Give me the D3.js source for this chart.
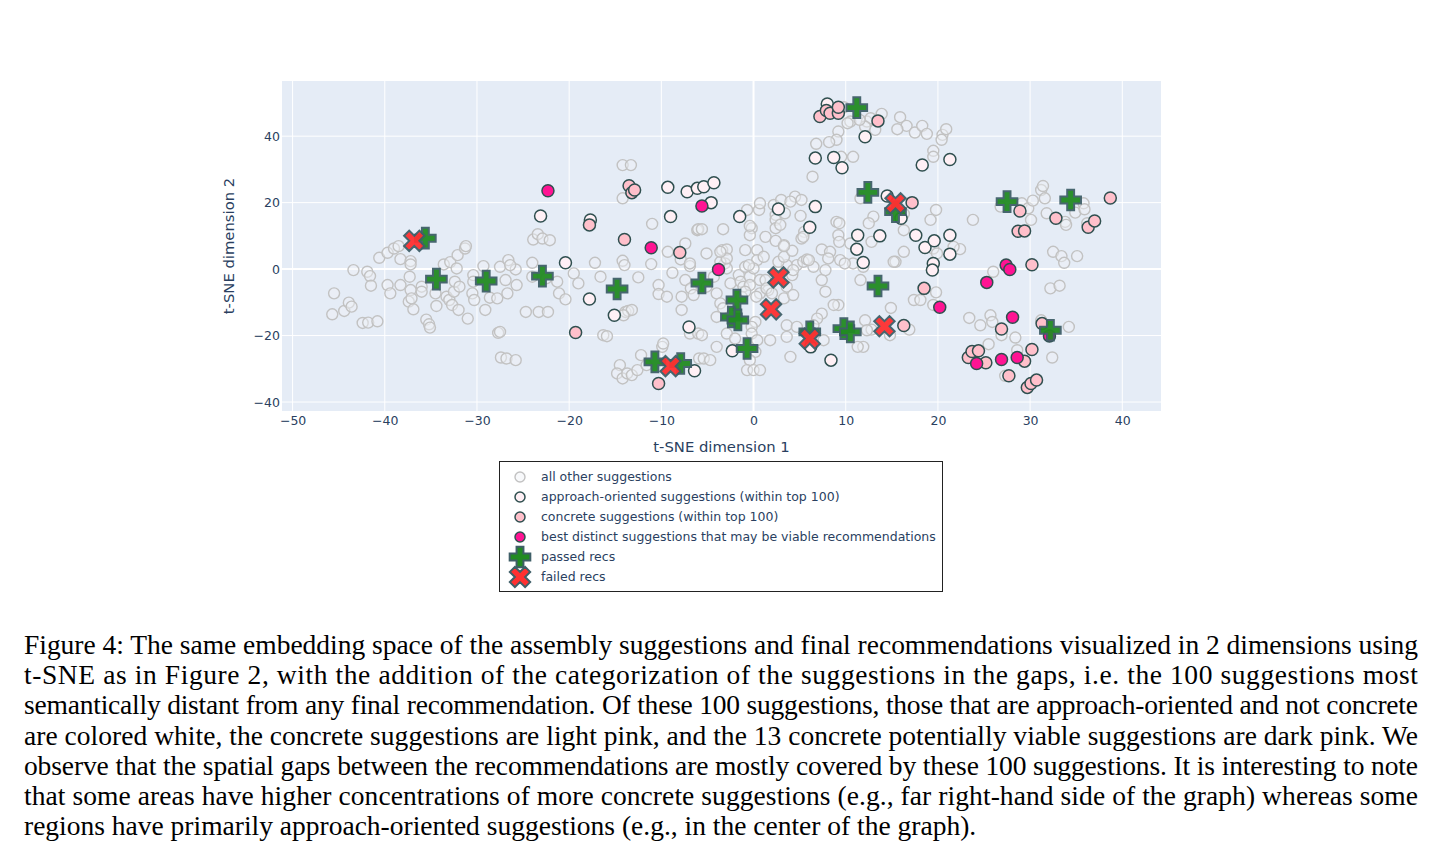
<!DOCTYPE html>
<html>
<head>
<meta charset="utf-8">
<script src="https://cdn.jsdelivr.net/npm/d3@7"></script>
<style>
  body { margin: 0; background: #fff; }
</style>
</head>
<body>
<svg id="chart"></svg>
<script>
// points, [dim1, dim2]
var otherPts = [
  [-40.6,3.4],[-39.7,4.9],[-39.0,6.2],[-38.5,6.9],[-38.3,3.0],[-37.2,2.4],[-37.2,1.4],[-33.6,1.4],[-32.9,2.1],
  [-32.1,4.2],[-31.3,6.2],[-31.2,6.9],[-29.3,0.9],[-27.5,0.7],[-26.6,2.7],[-25.8,-0.1],[-24.0,1.9],[-23.9,8.9],
  [-23.4,10.5],[-22.9,9.2],[-22.1,8.7],[-17.2,1.9],[-14.2,21.3],[-14.2,31.3],[-13.3,31.3],[-14.2,2.5],[-14.0,1.2],
  [-11.0,13.6],[-11.1,1.5],[-9.3,5.2],[-7.9,2.9],[-7.4,7.7],[-6.9,0.9],[-6.1,11.7],[-43.4,-0.3],[-41.9,-0.8],
  [-41.6,-2.1],[-41.5,-5.0],[-45.5,-7.3],[-45.7,-13.6],[-44.4,-12.6],[-43.9,-10.1],[-43.6,-11.3],[-42.4,-16.2],
  [-41.8,-16.1],[-40.8,-15.7],[-39.7,-4.8],[-39.4,-7.3],[-38.3,-4.8],[-37.3,-2.3],[-37.2,-6.3],[-37.4,-9.8],
  [-36.9,-12.1],[-37.1,-8.8],[-36.0,-5.3],[-36.0,-6.8],[-35.5,-15.2],[-35.2,-16.6],[-35.1,-17.6],[-34.5,-7.3],
  [-34.4,-11.1],[-33.3,-8.3],[-33.0,-9.3],[-32.7,-10.8],[-32.5,-6.8],[-32.4,-3.8],[-32.2,0.2],[-32.0,-12.3],
  [-31.9,-5.3],[-31.0,-14.9],[-30.5,-7.3],[-30.4,-1.8],[-30.4,-3.8],[-30.3,-9.3],[-29.1,-12.3],[-28.6,-8.6],
  [-27.8,-8.8],[-27.7,-19.2],[-27.5,-18.9],[-27.4,-26.6],[-26.8,-26.9],[-25.8,-27.4],[-26.9,-3.3],[-26.7,-7.3],
  [-26.4,1.2],[-25.7,-4.8],[-24.7,-12.9],[-24.0,-2.3],[-23.3,-12.9],[-22.5,-2.8],[-22.3,-12.9],[-21.3,-3.8],
  [-21.1,-7.3],[-20.4,-9.1],[-19.5,-1.3],[-19.0,-4.3],[-16.6,-2.3],[-16.3,-19.9],[-15.9,-20.2],[-13.9,-12.9],
  [-13.6,-12.6],[-13.2,-12.3],[-14.1,-13.9],[-12.5,-2.5],[-12.2,-25.9],[-14.5,-28.9],[-14.8,-31.4],[-14.2,-32.9],
  [-13.7,-31.4],[-13.2,-31.9],[-12.6,-30.4],[-11.6,-28.9],[-9.9,-23.4],[-9.8,-22.4],[-10.3,-4.8],[-10.3,-7.5],
  [-9.4,-8.3],[-8.8,-1.1],[-7.8,-12.3],[-7.8,-8.3],[-7.4,-3.3],[-6.9,1.7],[-6.8,-5.8],[-6.5,-7.8],[-6.9,-19.4],
  [-6.0,-19.4],[-5.9,-26.9],
  [-6.0,12.0],[-5.6,12.0],[-3.3,12.0],[-5.1,4.7],[-3.4,5.7],[-2.9,5.9],[-3.1,1.7],[-2.9,0.2],[0.4,5.7],[0.4,2.7],
  [-0.2,12.3],[-0.4,10.2],[-0.7,17.8],[0.6,17.8],[0.7,19.8],[2.2,19.3],[2.4,16.3],[2.4,14.8],[1.3,9.7],[2.4,12.3],
  [-4.3,-2.3],[-2.5,-4.3],[-1.6,-1.8],[-1.4,-3.8],[-1.1,-5.3],[-0.9,0.7],[-0.4,-2.3],[0.0,0.2],[0.7,-3.3],
  [1.6,-6.3],[0.7,-7.3],[-1.3,-8.3],[0.3,-8.3],[-4.0,-7.3],[-5.1,-5.3],
  [-3.6,2.2],[-2.9,3.2],[-0.5,1.2],[-0.4,-4.8],[-0.9,-6.8],[-3.6,-10.3],[-3.3,-11.8],[-4.0,-14.4],[0.2,-15.9],
  [-0.2,-17.4],[-0.2,-19.4],[-2.9,-19.4],[-2.0,-20.9],[-4.0,-23.4],[0.2,-24.9],[-0.4,-27.4],[-0.7,-30.4],
  [0.0,-30.4],[0.7,-30.4],[0.4,-21.4],[1.8,-21.4],[-5.4,-26.9],[-4.7,-27.4],[-5.6,-19.9],[1.3,-3.3],[1.4,-5.8],
  [2.0,-7.3],[3.3,-8.8],[3.6,-5.3],[4.3,-7.8],[4.2,-1.8],[4.7,1.2],[5.4,2.2],[3.6,1.2],[2.7,2.2],[1.1,3.7],
  [3.3,3.7],[6.5,0.7],[7.4,-3.3],[7.8,-6.8],[9.2,-10.8],[8.7,-10.8],[7.4,-13.4],[6.9,-14.9],[6.5,-16.9],
  [3.6,-16.9],[3.6,-20.4],[4.7,-17.4],[4.0,-26.4],[7.6,-21.4],[10.8,1.7],[9.4,2.7],
  [-3.6,5.2],[-0.9,5.7],[-0.4,13.0],[5.5,11.2],[5.2,9.2],[3.3,7.2],[4.2,5.5],[5.8,2.9],[2.4,8.5],
  [3.0,20.8],[4.5,21.8],[5.2,20.8],[4.0,20.3],[3.4,16.8],[5.1,16.0],[2.9,13.3],[5.4,9.7],[3.3,6.9],[7.4,5.9],
  [8.3,5.2],[8.1,3.2],[6.0,2.7],[4.3,-0.3],[7.8,-0.3],[9.0,14.2],[9.3,13.8],[9.2,10.2],[9.3,8.2],[10.5,7.7],
  [9.9,1.7],[12.8,8.2],[13.0,15.8],[12.5,13.8],[11.6,21.3],[16.3,11.7],[15.4,2.2],[16.3,5.2],[19.2,14.8],
  [19.8,17.8],[16.3,16.6],[19.5,6.2],[22.4,6.0],[21.7,6.7],[11.6,-3.3],
  [9.8,48.7],[10.5,44.4],[10.2,43.9],[12.3,44.4],[12.7,45.4],[13.9,46.7],[13.2,41.9],[12.1,42.9],[11.5,44.9],
  [9.2,41.4],[9.0,38.9],[8.2,38.2],[6.8,37.7],[9.5,33.8],[10.8,33.8],[6.4,27.8],[15.9,45.7],[16.6,43.1],
  [15.6,42.1],[17.5,41.1],[18.3,43.1],[18.8,40.7],[20.5,40.4],[20.4,38.9],[20.9,42.1],[19.5,35.6],[19.5,33.8],
  [16.9,-18.2],[14.9,-11.7],[14.8,-19.9],[12.8,-18.2],[12.1,-15.4],[11.9,-23.4],[11.3,-23.4],[12.3,-18.4],
  [11.9,0.7],[15.2,2.2],[17.4,-9.3],[18.1,-9.3],[19.8,-7.0],[19.5,-10.8],[19.9,4.7],[26.0,-0.8],
  [23.8,14.8],[26.8,18.8],[29.1,19.8],[29.8,18.3],[30.3,20.6],[30.1,14.8],[31.2,23.8],[31.4,25.0],[31.6,21.3],
  [31.8,16.8],[33.8,14.2],[33.9,13.3],[34.9,17.0],[35.8,19.8],[35.9,18.0],[36.2,13.8],[32.5,5.2],[33.4,3.9],
  [33.7,1.9],[35.1,3.9],[32.2,-5.8],[33.2,-5.0],[23.4,-14.7],[24.6,-16.9],[25.7,-13.9],[25.9,-15.9],[26.9,-19.9],
  [28.4,-20.6],[25.5,-22.6],[28.6,-24.4],[31.2,-15.4],[34.2,-17.4],[32.4,-26.6],[27.3,-32.1]
];
var approachPts = [
  [-23.1,16.0],[-17.7,14.8],[-20.4,1.9],[-9.3,24.6],[-9.0,15.8],[-7.2,23.3],[-6.1,24.3],[-5.4,24.8],[-4.3,26.0],
  [-4.6,20.0],[-1.5,15.8],[-17.8,-9.0],[-15.1,-13.9],[-7.0,-17.4],[-6.4,-30.6],[2.7,18.1],[6.7,18.8],[6.1,12.6],
  [8.0,49.7],[12.1,39.8],[6.7,33.4],[8.7,33.6],[9.6,30.5],[18.3,31.3],[21.3,33.0],[14.5,22.0],[16.0,15.3],
  [11.3,10.2],[13.7,10.0],[17.6,10.2],[18.6,6.5],[19.6,8.5],[21.3,10.2],[21.3,4.5],[11.2,6.0],[11.9,2.0],
  [19.5,1.7],[19.4,-0.3],[-2.3,-24.6],[8.4,-27.4],[6.2,-23.4]
];
var concretePts = [
  [-13.5,25.1],[-13.2,23.0],[-12.9,23.8],[-17.8,13.3],[-14.0,8.9],[-8.0,5.0],[-19.3,-19.1],[-10.3,-34.4],
  [7.2,45.9],[7.9,47.7],[8.3,46.9],[9.2,46.9],[9.2,48.7],[13.5,44.6],[17.2,20.0],[16.3,-17.0],[18.5,-5.8],
  [26.9,-18.0],[30.2,1.3],[30.2,-24.2],[31.3,-16.4],[23.3,-26.6],[23.7,-24.8],[24.4,-24.6],[25.2,-28.2],
  [27.7,-32.1],[29.4,-27.7],[29.7,-35.6],[30.1,-34.4],[30.7,-33.4],[28.9,17.5],[28.7,11.4],[29.4,11.5],
  [32.8,15.3],[36.3,12.6],[37.0,14.5],[38.7,21.4]
];
var bestPts = [
  [-22.3,23.6],[-11.1,6.4],[-5.6,19.0],[-3.8,-0.1],[20.2,-11.5],[25.3,-4.0],[27.4,1.2],[27.8,-0.1],
  [28.1,-14.5],[26.9,-27.2],[24.2,-28.4],[28.6,-26.6],[32.1,-20.1]
];
var passedPts = [
  [-35.6,9.3],[-34.4,-3.0],[-29.0,-3.6],[-22.9,-2.1],[-14.8,-6.0],[-5.6,-4.2],[-1.8,-9.3],[-2.4,-14.4],
  [-1.7,-15.3],[-0.7,-23.9],[-10.7,-27.9],[-7.9,-28.4],[6.1,-18.9],[9.8,-17.9],[10.5,-18.9],[11.2,48.6],
  [12.4,23.1],[15.4,17.3],[13.5,-5.1],[27.5,20.3],[34.4,20.8],[32.2,-18.4]
];
var failedPts = [
  [-36.8,8.5],[-9.0,-29.2],[2.7,-2.5],[1.9,-12.1],[6.1,-20.9],[14.2,-17.2],[15.4,19.8]
];

var xTicks = [-50, -40, -30, -20, -10, 0, 10, 20, 30, 40];
var yTicks = [-40, -20, 0, 20, 40];
var legendLabels = [
  "all other suggestions",
  "approach-oriented suggestions (within top 100)",
  "concrete suggestions (within top 100)",
  "best distinct suggestions that may be viable recommendations",
  "passed recs",
  "failed recs"
];
var captionLines = [
  "Figure 4: The same embedding space of the assembly suggestions and final recommendations visualized in 2 dimensions using",
  "t-SNE as in Figure 2, with the addition of the categorization of the suggestions in the gaps, i.e. the 100 suggestions most",
  "semantically distant from any final recommendation. Of these 100 suggestions, those that are approach-oriented and not concrete",
  "are colored white, the concrete suggestions are light pink, and the 13 concrete potentially viable suggestions are dark pink. We",
  "observe that the spatial gaps between the recommendations are mostly covered by these 100 suggestions. It is interesting to note",
  "that some areas have higher concentrations of more concrete suggestions (e.g., far right-hand side of the graph) whereas some",
  "regions have primarily approach-oriented suggestions (e.g., in the center of the graph)."
];

var W = 1456, H = 858;
var plot = {left: 282, right: 1161, top: 81, bottom: 411};
var fontUI = "'DejaVu Sans', Verdana, sans-serif";
var inkColor = "#2a3f5f";
var edge = "#2f4f4f";

var svg = d3.select("#chart").attr("width", W).attr("height", H);
svg.append("rect").attr("width", W).attr("height", H).attr("fill", "#fff");

var x = d3.scaleLinear().domain([-51.15, 44.2]).range([plot.left, plot.right]);
var y = d3.scaleLinear().domain([-42.7, 56.6]).range([plot.bottom, plot.top]);

// plot background + grid
svg.append("rect")
  .attr("x", plot.left).attr("y", plot.top)
  .attr("width", plot.right - plot.left).attr("height", plot.bottom - plot.top)
  .attr("fill", "#e5ecf6");

var grid = svg.append("g");
grid.selectAll("line.gx").data(xTicks).enter().append("line")
  .attr("x1", function(d) { return x(d); }).attr("x2", function(d) { return x(d); })
  .attr("y1", plot.top).attr("y2", plot.bottom)
  .attr("stroke", "#fff").attr("stroke-width", function(d) { return d === 0 ? 2 : 1; });
grid.selectAll("line.gy").data(yTicks).enter().append("line")
  .attr("y1", function(d) { return y(d); }).attr("y2", function(d) { return y(d); })
  .attr("x1", plot.left).attr("x2", plot.right)
  .attr("stroke", "#fff").attr("stroke-width", function(d) { return d === 0 ? 2 : 1; });

// axes (labels only, plotly style)
var xAxis = svg.append("g")
  .attr("transform", "translate(0," + (plot.bottom + 4) + ")")
  .call(d3.axisBottom(x).tickValues(xTicks).tickSize(0).tickPadding(1));
var yAxis = svg.append("g")
  .attr("transform", "translate(" + (plot.left - 2) + ",0)")
  .call(d3.axisLeft(y).tickValues(yTicks).tickSize(0).tickPadding(0));
[xAxis, yAxis].forEach(function(a) {
  a.select(".domain").remove();
  a.selectAll("text").attr("fill", inkColor).style("font-family", fontUI).style("font-size", "12.5px");
});

svg.append("text")
  .attr("x", (plot.left + plot.right) / 2).attr("y", 452)
  .attr("text-anchor", "middle")
  .attr("fill", inkColor).style("font-family", fontUI).style("font-size", "14.8px")
  .text("t-SNE dimension 1");
svg.append("text")
  .attr("transform", "translate(234," + ((plot.top + plot.bottom) / 2) + ") rotate(-90)")
  .attr("text-anchor", "middle")
  .attr("fill", inkColor).style("font-family", fontUI).style("font-size", "14.8px")
  .text("t-SNE dimension 2");

// marker shapes (plotly cross / x)
function crossPath(r) {
  var a = r * 0.4, b = r * 1.2;
  return "M" + b + "," + a + "H" + a + "V" + b + "H" + (-a) + "V" + a + "H" + (-b) +
    "V" + (-a) + "H" + (-a) + "V" + (-b) + "H" + a + "V" + (-a) + "H" + b + "Z";
}
function xPath(r) {
  var t = r * 0.8 / Math.SQRT2;
  var ne = "l" + t + "," + t, se = "l" + t + "," + (-t), sw = "l" + (-t) + "," + (-t), nw = "l" + (-t) + "," + t;
  return "M0," + t + ne + se + sw + se + sw + nw + sw + nw + ne + nw + ne + "Z";
}

var series = [
  {pts: otherPts, kind: "circle", r: 5.5, fill: "rgba(240,242,246,0.45)", stroke: "#c2c2c2", sw: 1.4},
  {pts: approachPts, kind: "circle", r: 6, fill: "#fff0f5", stroke: edge, sw: 1.5},
  {pts: concretePts, kind: "circle", r: 6, fill: "#ffc0cb", stroke: edge, sw: 1.5},
  {pts: bestPts, kind: "circle", r: 6, fill: "#ff1493", stroke: edge, sw: 1.5},
  {pts: passedPts, kind: "cross", r: 8.6, fill: "#228b22", stroke: "#3f5f68", sw: 2},
  {pts: failedPts, kind: "x", r: 9, fill: "#ff3030", stroke: "#3f5f68", sw: 2}
];

var marks = svg.append("g");
series.forEach(function(s) {
  var g = marks.append("g");
  if (s.kind === "circle") {
    g.selectAll("circle").data(s.pts).enter().append("circle")
      .attr("cx", function(d) { return x(d[0]); })
      .attr("cy", function(d) { return y(d[1]); })
      .attr("r", s.r)
      .attr("fill", s.fill).attr("stroke", s.stroke).attr("stroke-width", s.sw);
  } else {
    var p = s.kind === "cross" ? crossPath(s.r) : xPath(s.r);
    g.selectAll("path").data(s.pts).enter().append("path")
      .attr("d", p)
      .attr("transform", function(d) { return "translate(" + x(d[0]) + "," + y(d[1]) + ")"; })
      .attr("fill", s.fill).attr("stroke", s.stroke).attr("stroke-width", s.sw)
      .attr("opacity", 0.95);
  }
});

// legend
var legend = svg.append("g").attr("transform", "translate(499.5,461.5)");
legend.append("rect").attr("width", 443).attr("height", 130)
  .attr("fill", "#fff").attr("stroke", "#222").attr("stroke-width", 1);
var items = legend.selectAll("g.item").data(series).enter().append("g")
  .attr("transform", function(d, i) { return "translate(20.5," + (15.5 + i * 20) + ")"; });
items.each(function(s, i) {
  var g = d3.select(this);
  if (s.kind === "circle") {
    g.append("circle").attr("r", 5).attr("fill", s.fill)
      .attr("stroke", s.stroke).attr("stroke-width", s.sw);
  } else {
    g.append("path").attr("d", s.kind === "cross" ? crossPath(s.r) : xPath(s.r))
      .attr("fill", s.fill).attr("stroke", s.stroke).attr("stroke-width", s.sw);
  }
  g.append("text").attr("x", 21).attr("dy", "0.35em")
    .attr("fill", inkColor).style("font-family", fontUI).style("font-size", "12.5px")
    .text(legendLabels[i]);
});

// caption, justified like the paper
var cap = svg.append("g");
cap.selectAll("text").data(captionLines).enter().append("text")
  .attr("x", 24)
  .attr("y", function(d, i) { return 654 + i * 30.2; })
  .attr("fill", "#000")
  .style("font-family", "'Liberation Serif', 'Times New Roman', serif")
  .style("font-size", "27.5px")
  .each(function(d, i) {
    if (i < captionLines.length - 1) {
      d3.select(this).attr("textLength", 1394).attr("lengthAdjust", "spacing");
    }
  })
  .text(function(d) { return d; });
</script>
</body>
</html>
